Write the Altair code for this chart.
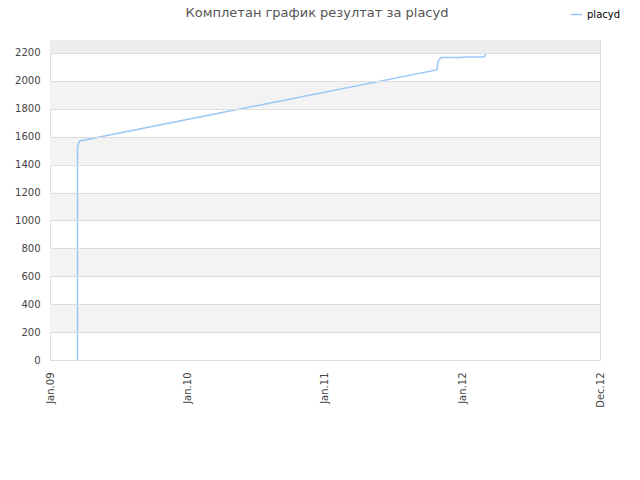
import altair as alt
import pandas as pd

# Data
dates = ["2009-03-15", "2009-03-15", "2009-03-17", "2009-03-21",
         "2011-10-25", "2011-10-27", "2011-10-29", "2011-11-05",
         "2012-01-02", "2012-01-03", "2012-02-28", "2012-03-04"]
ratings = [0, 1517, 1548, 1570,
           2079, 2100, 2140, 2167,
           2167, 2172, 2172, 2191]
series_name = "placyd"

y_ticks = [0, 200, 400, 600, 800, 1000, 1200, 1400, 1600, 1800, 2000, 2200]
y_max = 2293
band_lo = [200, 600, 1000, 1400, 1800, 2200]
band_hi = [400, 800, 1200, 1600, 2000, y_max]
band_fill = ["#f3f3f3", "#f3f3f3", "#f3f3f3", "#f3f3f3", "#f3f3f3", "#eeeeee"]

x_tick_years = [2009, 2010, 2011, 2012, 2013]
title_text = "Комплетан график резултат за placyd"

line_df = pd.DataFrame({"date": dates, "rating": ratings, "player": series_name})
band_df = pd.DataFrame({"lo": band_lo, "hi": band_hi, "fill": band_fill})

FONT = "DejaVu Sans"

x_scale = alt.Scale(type="utc",
                    domain=[alt.DateTime(year=2009, month=1, date=1, utc=True),
                            alt.DateTime(year=2013, month=1, date=1, utc=True)])
y_scale = alt.Scale(domain=[0, y_max], nice=False)

x_axis = alt.Axis(
    values=[alt.DateTime(year=yv, month=1, date=1, utc=True) for yv in x_tick_years],
    labelExpr="utcyear(datum.value) == 2013 ? 'Dec.12' : 'Jan.' + utcFormat(datum.value, '%y')",
    labelAngle=270, labelAlign="right", labelBaseline="middle",
    labelPadding=12, ticks=False, domain=False, grid=False, labelOverlap=False,
    labelFont=FONT, labelFontSize=10, labelColor="#444444", title=None,
)
y_axis = alt.Axis(
    values=y_ticks, format="d", ticks=False, domain=False, grid=True, gridColor="#dddddd",
    labelOverlap=False, labelPadding=10, labelFont=FONT, labelFontSize=10,
    labelColor="#444444", title=None, zindex=1,
)

bands = alt.Chart(band_df).mark_rect().encode(
    y=alt.Y("lo:Q", scale=y_scale, axis=y_axis),
    y2="hi:Q",
    x=alt.value(0), x2=alt.value(550),
    color=alt.Color("fill:N", scale=None),
)

line = alt.Chart(line_df).mark_line(strokeWidth=1.5, interpolate="linear").encode(
    x=alt.X("date:T", scale=x_scale, axis=x_axis),
    y=alt.Y("rating:Q", scale=y_scale, axis=y_axis),
    stroke=alt.Stroke("player:N", scale=alt.Scale(range=["#99c7f7"]),
                      legend=alt.Legend(title=None, orient="none", legendX=520, legendY=-32,
                                        symbolType="stroke", symbolSize=120, symbolStrokeWidth=1.5,
                                        labelFont=FONT, labelFontSize=10, labelColor="#000000")),
)

chart = alt.layer(bands, line).properties(
    width=550, height=320,
    padding={"left": 42, "top": 32, "right": 30, "bottom": 100},
    autosize=alt.AutoSizeParams(type="none"),
    title=alt.TitleParams(title_text, font=FONT, fontSize=13, fontWeight="normal",
                          color="#555555", anchor="middle", offset=-12, dx=-8),
).configure_view(stroke="#dddddd")

chart.save("out.html", embed_options={"renderer": "svg", "actions": False})
